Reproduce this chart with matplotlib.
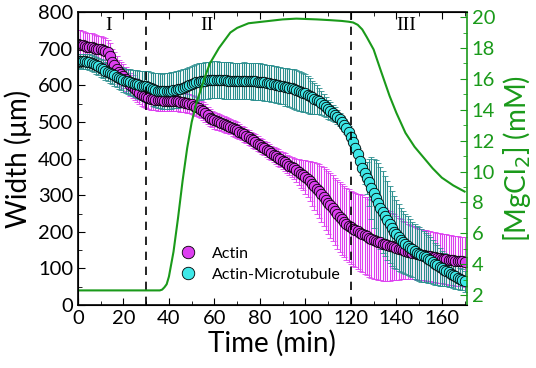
import matplotlib.pyplot as plt
from matplotlib.lines import Line2D

plt.rcParams['font.family'] = ['Lato', 'DejaVu Sans']

# time in minutes, one point per minute
t = list(range(171))

actin = [712, 710, 709, 707, 706, 705, 704, 702, 700, 699,
         698, 697, 694, 690, 680, 665, 656, 646, 637, 630,
         625, 618, 610, 602, 596, 590, 585, 580, 575, 571,
         568, 566, 564, 562, 561, 560, 559, 559, 558, 558,
         558, 557, 557, 556, 556, 555, 554, 553, 551, 550,
         548, 545, 542, 538, 534, 530, 524, 518, 512, 508,
         505, 502, 500, 497, 495, 492, 490, 487, 484, 481,
         478, 474, 470, 466, 462, 458, 454, 450, 446, 441,
         437, 433, 429, 424, 420, 415, 411, 407, 403, 398,
         394, 390, 386, 381, 377, 373, 368, 364, 359, 355,
         350, 344, 338, 331, 325, 318, 311, 303, 296, 288,
         280, 272, 264, 256, 248, 240, 234, 228, 222, 217,
         212, 208, 205, 201, 198, 195, 191, 188, 184, 181,
         178, 176, 173, 171, 168, 166, 164, 162, 160, 158,
         156, 154, 152, 150, 148, 146, 145, 143, 142, 140,
         139, 138, 137, 135, 134, 133, 132, 131, 129, 128,
         127, 126, 125, 124, 123, 122, 121, 120, 119, 119,
         118]

actin_err = [40, 40, 40, 40, 38, 38, 38, 37, 37, 36,
             36, 36, 35, 35, 35, 34, 34, 34, 33, 33,
             33, 32, 32, 32, 31, 31, 31, 30, 30, 30,
             30, 30, 30, 29, 29, 29, 29, 28, 28, 28,
             28, 28, 27, 27, 27, 27, 26, 26, 26, 26,
             25, 25, 25, 25, 24, 24, 24, 24, 23, 23,
             23, 23, 22, 22, 22, 22, 21, 21, 21, 21,
             21, 20, 20, 20, 20, 20, 20, 20, 20, 20,
             20, 20, 20, 20, 20, 20, 21, 21, 22, 22,
             23, 24, 25, 26, 28, 30, 32, 35, 38, 42,
             46, 50, 55, 60, 65, 70, 74, 77, 80, 83,
             86, 88, 90, 92, 94, 96, 97, 98, 99, 100,
             100, 101, 102, 103, 104, 105, 105, 106, 106, 106,
             106, 105, 104, 103, 101, 99, 97, 95, 92, 90,
             88, 85, 82, 80, 78, 76, 74, 73, 72, 71,
             70, 70, 69, 69, 69, 68, 68, 68, 68, 68,
             68, 68, 68, 68, 68, 68, 68, 68, 68, 68,
             68]

actin_mt = [666, 667, 666, 666, 665, 664, 661, 658, 655, 652,
            648, 644, 640, 637, 633, 630, 627, 624, 621, 618,
            615, 613, 611, 609, 607, 605, 603, 601, 599, 598,
            597, 595, 593, 590, 588, 586, 585, 584, 584, 584,
            585, 586, 587, 588, 589, 591, 594, 596, 598, 601,
            604, 606, 608, 610, 611, 612, 613, 614, 615, 616,
            616, 616, 615, 615, 614, 614, 613, 613, 612, 612,
            612, 612, 612, 613, 612, 612, 612, 611, 611, 610,
            610, 609, 608, 607, 606, 605, 604, 602, 601, 599,
            598, 596, 595, 593, 592, 590, 588, 585, 583, 580,
            578, 575, 571, 568, 564, 561, 557, 552, 546, 541,
            535, 530, 525, 520, 513, 507, 500, 492, 483, 472,
            458, 444, 430, 412, 393, 375, 360, 347, 335, 320,
            305, 292, 278, 265, 254, 243, 232, 221, 210, 200,
            193, 185, 178, 173, 167, 162, 157, 152, 147, 142,
            139, 136, 133, 130, 126, 122, 118, 113, 109, 104,
            100, 97, 93, 90, 86, 82, 79, 75, 72, 69,
            65]

actin_mt_err = [20, 20, 20, 20, 21, 21, 22, 22, 23, 23,
                24, 24, 25, 25, 26, 27, 28, 29, 30, 31,
                32, 33, 34, 35, 36, 37, 38, 39, 40, 41,
                42, 43, 44, 45, 46, 47, 48, 48, 49, 49,
                50, 50, 50, 50, 50, 50, 50, 50, 50, 50,
                50, 50, 50, 50, 50, 50, 50, 50, 50, 50,
                50, 50, 50, 50, 50, 50, 50, 50, 50, 50,
                50, 50, 50, 50, 50, 50, 50, 50, 50, 50,
                50, 50, 50, 50, 50, 50, 50, 50, 50, 50,
                50, 51, 52, 53, 54, 55, 55, 55, 54, 53,
                52, 50, 48, 45, 42, 39, 36, 33, 30, 28,
                26, 24, 22, 20, 19, 18, 17, 16, 16, 16,
                16, 16, 16, 17, 18, 20, 30, 45, 65, 85,
                95, 105, 110, 112, 112, 110, 108, 105, 102, 98,
                95, 92, 88, 85, 82, 80, 78, 76, 75, 74,
                73, 72, 70, 68, 66, 63, 60, 57, 54, 51,
                48, 45, 42, 40, 38, 36, 34, 32, 30, 29,
                28]

# MgCl2 concentration (mM)
t_mg = [0, 36, 37, 38, 39, 40, 42, 44, 46, 48, 50, 52, 54, 56, 58, 60, 62, 64,
        67, 70, 75, 81, 90, 96, 105, 111, 116, 119, 121, 123, 125, 127, 130,
        133, 137, 140, 144, 148, 152, 156, 160, 165, 170]
mgcl2 = [2.3, 2.3, 2.35, 2.5, 2.7, 3.2, 4.8, 7.0, 9.4, 11.5, 13.2, 14.4, 15.3,
         16.2, 17.0, 17.5, 18.0, 18.4, 19.0, 19.3, 19.6, 19.7, 19.85, 19.9,
         19.85, 19.8, 19.75, 19.7, 19.65, 19.5, 19.2, 18.7, 17.9, 16.6, 14.9,
         13.8, 12.5, 11.6, 10.9, 10.2, 9.6, 9.1, 8.7]

phase_bounds = [30, 120]
phase_labels = ['I', 'II', 'III']
phase_label_x = [13.6, 56.5, 144.5]

magenta = '#dd3ff0'
cyan = '#3ee8e8'
teal = '#2b8f8f'
green = '#1a9a1a'

fig = plt.figure(figsize=(5.36, 3.68), dpi=100)
ax = fig.add_axes([0.1455, 0.171, 0.7255, 0.796])

ax.errorbar(t, actin, yerr=actin_err, fmt='o', ms=7.5, mfc=magenta, mec='black',
            mew=0.6, ecolor=magenta, elinewidth=0.8, capsize=2.5, capthick=0.8)
ax.errorbar(t, actin_mt, yerr=actin_mt_err, fmt='o', ms=7.5, mfc=cyan, mec='black',
            mew=0.6, ecolor=teal, elinewidth=0.8, capsize=2.5, capthick=0.8)

for xb in phase_bounds:
    ax.axvline(xb, color='black', ls=(0, (5, 4)), lw=1.2, zorder=5)
for lab, xl in zip(phase_labels, phase_label_x):
    ax.text(xl, 764, lab, family='Liberation Serif', fontsize=14, ha='center', va='center')

ax.set_xlim(0, 171)
ax.set_ylim(0, 800)
ax.set_xticks(range(0, 161, 20))
ax.set_xticks(range(10, 171, 20), minor=True)
ax.set_yticks(range(0, 801, 100))
ax.set_yticks(range(50, 800, 100), minor=True)
ax.tick_params(which='both', direction='in', top=True, right=False, labelsize=14.5)
ax.tick_params(which='major', length=5)
ax.tick_params(which='minor', length=3)
ax.set_xlabel('Time (min)', fontsize=20, labelpad=2)
ax.set_ylabel('Width (μm)', fontsize=20, labelpad=4)

handles = [Line2D([], [], ls='none', marker='o', ms=9, mfc=magenta, mec='black', mew=0.6),
           Line2D([], [], ls='none', marker='o', ms=9, mfc=cyan, mec='black', mew=0.6)]
ax.legend(handles, ['Actin', 'Actin-Microtubule'], loc='lower left',
          bbox_to_anchor=(0.205, 0.03), frameon=False, fontsize=11.5,
          handletextpad=0.5, labelspacing=0.45)

ax2 = ax.twinx()
ax2.plot(t_mg, mgcl2, color=green, lw=1.5)
ax2.set_ylim(1.35, 20.32)
ax2.set_yticks(range(2, 21, 2))
ax2.set_yticks(range(3, 20, 2), minor=True)
ax2.tick_params(which='both', direction='in', colors=green, labelsize=14.5)
ax2.tick_params(which='major', length=5)
ax2.tick_params(which='minor', length=3)
ax2.spines['right'].set_color(green)
ax2.spines['right'].set_linewidth(1.2)
ax2.set_ylabel('[MgCl$_2$] (mM)', color=green, fontsize=20, labelpad=4)

for s in ['left', 'bottom', 'top']:
    ax.spines[s].set_linewidth(1.2)
ax.spines['right'].set_visible(False)

fig.savefig('out.png', dpi=100)
